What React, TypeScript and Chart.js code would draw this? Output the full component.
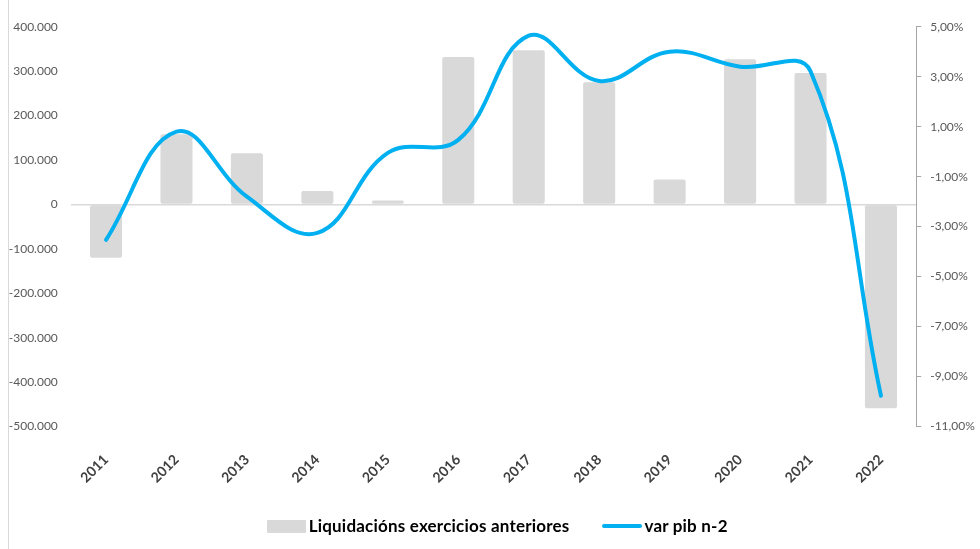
import React, { useEffect, useRef } from "react";
import { Chart, registerables } from "chart.js";

Chart.register(...registerables);

const YEARS = ["2011", "2012", "2013", "2014", "2015", "2016", "2017", "2018", "2019", "2020", "2021", "2022"];
const LIQUIDACIONS = [-120000, 158000, 115000, 30000, 9000, 332000, 347000, 275000, 56000, 327000, 296000, -459000];
const VAR_PIB = [-0.0353, 0.008, -0.018, -0.0325, -0.0005, 0.0047, 0.0464, 0.0283, 0.04, 0.034, 0.0322, -0.0977];
const LEFT_TICKS = [-500000, -400000, -300000, -200000, -100000, 0, 100000, 200000, 300000, 400000];
const RIGHT_TICKS = [-0.11, -0.09, -0.07, -0.05, -0.03, -0.01, 0.01, 0.03, 0.05];

const SERIES_NAMES = ["Liquidacións exercicios anteriores", "var pib n-2"];
const BAR_COLOR = "#d9d9d9";
const LINE_COLOR = "#00b0f0";

function fmtThousands(v: number): string {
  if (v === 0) return "0";
  const neg = v < 0;
  const s = Math.abs(Math.round(v)).toString();
  const parts: string[] = [];
  for (let i = s.length; i > 0; i -= 3) parts.unshift(s.slice(Math.max(0, i - 3), i));
  return (neg ? "-" : "") + parts.join(".");
}

function fmtPct(v: number): string {
  return (v * 100).toFixed(2).replace(".", ",") + "%";
}

const frameLine = {
  id: "frameLine",
  afterDraw(chart: any) {
    const ctx = chart.ctx;
    ctx.save();
    ctx.strokeStyle = "#d9d9d9";
    ctx.lineWidth = 1;
    ctx.beginPath();
    ctx.moveTo(8.5, 0);
    ctx.lineTo(8.5, chart.height);
    ctx.stroke();
    ctx.restore();
  },
};

export default function App() {
  const ref = useRef<HTMLCanvasElement | null>(null);

  useEffect(() => {
    document.body.style.margin = "0";
    if (!ref.current) return;
    const chart = new Chart(ref.current, {
      type: "bar",
      data: {
        labels: YEARS,
        datasets: [
          {
            type: "bar",
            label: SERIES_NAMES[0],
            data: LIQUIDACIONS,
            backgroundColor: BAR_COLOR,
            borderWidth: 0,
            borderRadius: 2,
            borderSkipped: false,
            barPercentage: 0.455,
            categoryPercentage: 1,
            yAxisID: "y",
            order: 1,
          },
          {
            type: "line",
            label: SERIES_NAMES[1],
            data: VAR_PIB,
            borderColor: LINE_COLOR,
            backgroundColor: LINE_COLOR,
            borderWidth: 4,
            borderCapStyle: "round",
            borderJoinStyle: "round",
            pointRadius: 0,
            pointHoverRadius: 0,
            tension: 0.4,
            fill: false,
            yAxisID: "y1",
            order: 0,
          },
        ] as any,
      },
      options: {
        animation: false,
        responsive: false,
        events: [],
        layout: { padding: { top: 26.7, bottom: 40, left: 0, right: 0 } },
        plugins: {
          legend: { display: false },
          tooltip: { enabled: false },
        },
        scales: {
          x: {
            type: "category",
            offset: true,
            grid: { display: false },
            border: { display: false },
            ticks: {
              maxRotation: 45,
              minRotation: 45,
              padding: 17,
              color: "#404040",
              font: { family: "Lato", size: 14, weight: "bold" },
            },
            afterFit(scale: any) {
              scale.height = 82.5;
            },
          },
          y: {
            type: "linear",
            position: "left",
            min: -500000,
            max: 400000,
            afterBuildTicks(scale: any) {
              scale.ticks = LEFT_TICKS.map((v) => ({ value: v }));
            },
            grid: {
              display: true,
              drawTicks: false,
              color: (c: any) => (c.tick && c.tick.value === 0 ? "#d9d9d9" : "rgba(0,0,0,0)"),
              lineWidth: 1.5,
            },
            border: { display: false },
            ticks: {
              padding: 13,
              color: "#595959",
              font: { family: "Lato", size: 12 },
              callback: (v: any) => fmtThousands(Number(v)),
            },
            afterFit(scale: any) {
              scale.width = 70.8;
            },
          },
          y1: {
            type: "linear",
            position: "right",
            min: -0.11,
            max: 0.05,
            afterBuildTicks(scale: any) {
              scale.ticks = RIGHT_TICKS.map((v) => ({ value: v }));
            },
            grid: {
              display: true,
              drawOnChartArea: false,
              drawTicks: true,
              tickLength: 5,
              color: "#a6a6a6",
            },
            border: { display: true, color: "#a6a6a6", width: 1 },
            ticks: {
              padding: 9,
              color: "#595959",
              font: { family: "Lato", size: 12 },
              callback: (v: any) => fmtPct(Number(v)),
            },
            afterFit(scale: any) {
              scale.width = 63.8;
            },
          },
        },
      } as any,
      plugins: [frameLine],
    });
    return () => chart.destroy();
  }, []);

  const legendText: React.CSSProperties = {
    fontFamily: "Lato",
    fontWeight: "bold",
    fontSize: 17,
    letterSpacing: 0.2,
    color: "#000",
    whiteSpace: "nowrap",
    lineHeight: "20px",
  };

  return (
    <div style={{ position: "relative", width: 980, height: 549 }}>
      <canvas ref={ref} width={980} height={549} style={{ display: "block" }} />
      <div
        style={{
          position: "absolute",
          left: 266.7,
          top: 516,
          height: 20,
          display: "flex",
          alignItems: "center",
        }}
      >
        <span style={{ display: "inline-block", width: 39, height: 13, background: BAR_COLOR, borderRadius: 1 }} />
        <span style={{ ...legendText, marginLeft: 3 }}>{SERIES_NAMES[0]}</span>
        <span
          style={{
            display: "inline-block",
            width: 40,
            height: 4,
            borderRadius: 2,
            background: LINE_COLOR,
            marginLeft: 33,
          }}
        />
        <span style={{ ...legendText, marginLeft: 2 }}>{SERIES_NAMES[1]}</span>
      </div>
    </div>
  );
}
